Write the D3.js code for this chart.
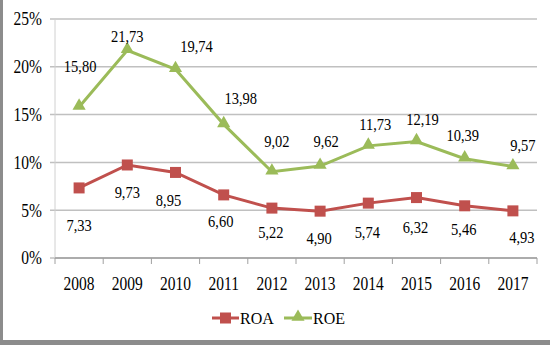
<!DOCTYPE html>
<html lang="en">
<head>
  <meta charset="UTF-8">
  <title>ROA và ROE 2008-2017</title>
  <script src="https://d3js.org/d3.v7.min.js"></script>
  <style>
    html, body { margin: 0; padding: 0; background: #fff; }
  </style>
</head>
<body>
<div id="chart"></div>
<script>
// Years on the x axis
const years = ["2008", "2009", "2010", "2011", "2012", "2013", "2014", "2015", "2016", "2017"];
// ROA and ROE in percent
const roa = [7.33, 9.73, 8.95, 6.60, 5.22, 4.90, 5.74, 6.32, 5.46, 4.93];
const roe = [15.80, 21.73, 19.74, 13.98, 9.02, 9.62, 11.73, 12.19, 10.39, 9.57];
// y axis ticks
const yTicks = [0, 5, 10, 15, 20, 25];

// label offsets relative to each point (dx, dy)
const roaLabelOff = [[0, 38], [0, 28], [-7, 28], [-3, 27], [-1, 25], [-1, 28], [-1, 30], [-1, 30], [-1, 24], [9, 27]];
const roeLabelOff = [[1, -40], [0, -14], [21, -23], [17, -26], [5, -30], [6, -24], [7, -21], [6, -22], [-2, -23], [10, -21]];

const FONT = "'Liberation Serif', 'Times New Roman', serif";
const W = 550, H = 345;
const margin = { top: 19, right: 13, bottom: 87, left: 55 };
const iw = W - margin.left - margin.right;
const ih = H - margin.top - margin.bottom;

const colROA = "#c0504d", colROE = "#9bbb59";

const svg = d3.select("#chart").append("svg")
  .attr("width", W).attr("height", H)
  .attr("font-family", FONT);

// frame: gray edge on the left and bottom
svg.append("rect").attr("x", 0).attr("y", 0).attr("width", 3).attr("height", H).attr("fill", "#8c8c8c");
svg.append("rect").attr("x", 0).attr("y", 340).attr("width", W).attr("height", 5).attr("fill", "#8c8c8c");

const g = svg.append("g").attr("transform", `translate(${margin.left},${margin.top})`);

const x = d3.scaleBand().domain(years).range([0, iw]);
const y = d3.scaleLinear().domain([0, 25]).range([ih, 0]);

// gridlines
g.selectAll(".grid").data(yTicks).enter().append("line")
  .attr("x1", -5).attr("x2", iw)
  .attr("y1", d => y(d)).attr("y2", d => y(d))
  .attr("stroke", "#c0c0c0").attr("stroke-width", 1.5);

// y axis line
g.append("line").attr("x1", 0).attr("x2", 0).attr("y1", 0).attr("y2", ih)
  .attr("stroke", "#d0d0d0").attr("stroke-width", 1);

function label(sel, size) {
  return sel.style("font-family", FONT).style("font-size", size).attr("fill", "#000");
}

// y tick labels (slightly tall glyphs)
label(g.selectAll(".ylab").data(yTicks).enter().append("text")
  .attr("transform", d => `translate(-13,${y(d)}) scale(1,1.2)`)
  .attr("text-anchor", "end").attr("dy", "0.34em"), "15.5px")
  .text(d => d + "%");

// x axis with tick marks at category boundaries
const bounds = years.map(d => x(d)).concat([iw]);
g.append("line").attr("x1", 0).attr("x2", iw).attr("y1", ih).attr("y2", ih)
  .attr("stroke", "#a0a0a0").attr("stroke-width", 1.5);
g.selectAll(".xtick").data(bounds).enter().append("line")
  .attr("x1", d => d).attr("x2", d => d)
  .attr("y1", ih).attr("y2", ih + 6)
  .attr("stroke", "#a0a0a0").attr("stroke-width", 1);

label(g.selectAll(".xlab").data(years).enter().append("text")
  .attr("transform", d => `translate(${x(d) + x.bandwidth() / 2},${ih + 26}) scale(1,1.2)`)
  .attr("text-anchor", "middle").attr("dy", "0.34em"), "15.5px")
  .text(d => d);

const cx = (d, i) => x(years[i]) + x.bandwidth() / 2;
const line = d3.line().x((d, i) => cx(d, i)).y(d => y(d));

// ROE series
g.append("path").datum(roe).attr("d", line)
  .attr("fill", "none").attr("stroke", colROE).attr("stroke-width", 3);
const tri = d3.symbol().type(d3.symbolTriangle).size(75);
g.selectAll(".roeM").data(roe).enter().append("path")
  .attr("d", tri)
  .attr("transform", (d, i) => `translate(${cx(d, i)},${y(d) - 1})`)
  .attr("fill", colROE);

// ROA series
g.append("path").datum(roa).attr("d", line)
  .attr("fill", "none").attr("stroke", colROA).attr("stroke-width", 3);
g.selectAll(".roaM").data(roa).enter().append("rect")
  .attr("x", (d, i) => cx(d, i) - 5.5).attr("y", d => y(d) - 5.5)
  .attr("width", 11).attr("height", 11)
  .attr("fill", colROA);

const fmt = v => v.toFixed(2).replace(".", ",");

// data labels
label(g.selectAll(".roaLab").data(roa).enter().append("text")
  .attr("transform", (d, i) => `translate(${cx(d, i) + roaLabelOff[i][0]},${y(d) + roaLabelOff[i][1]}) scale(1,1.08)`)
  .attr("text-anchor", "middle").attr("dy", "0.34em"), "14.5px")
  .text(fmt);
label(g.selectAll(".roeLab").data(roe).enter().append("text")
  .attr("transform", (d, i) => `translate(${cx(d, i) + roeLabelOff[i][0]},${y(d) + roeLabelOff[i][1]}) scale(1,1.08)`)
  .attr("text-anchor", "middle").attr("dy", "0.34em"), "14.5px")
  .text(fmt);

// legend
const legend = svg.append("g").attr("transform", "translate(212,318)");
legend.append("line").attr("x1", 0).attr("x2", 27).attr("y1", 0).attr("y2", 0)
  .attr("stroke", colROA).attr("stroke-width", 3);
legend.append("rect").attr("x", 8).attr("y", -5.5).attr("width", 11).attr("height", 11).attr("fill", colROA);
label(legend.append("text").attr("transform", "translate(28,0) scale(1,1.1)").attr("dy", "0.34em"), "16px")
  .text("ROA");

legend.append("line").attr("x1", 72).attr("x2", 100).attr("y1", 0).attr("y2", 0)
  .attr("stroke", colROE).attr("stroke-width", 3);
legend.append("path").attr("d", tri).attr("transform", "translate(86,-1)").attr("fill", colROE);
label(legend.append("text").attr("transform", "translate(101,0) scale(1,1.1)").attr("dy", "0.34em"), "16px")
  .text("ROE");
</script>
</body>
</html>
